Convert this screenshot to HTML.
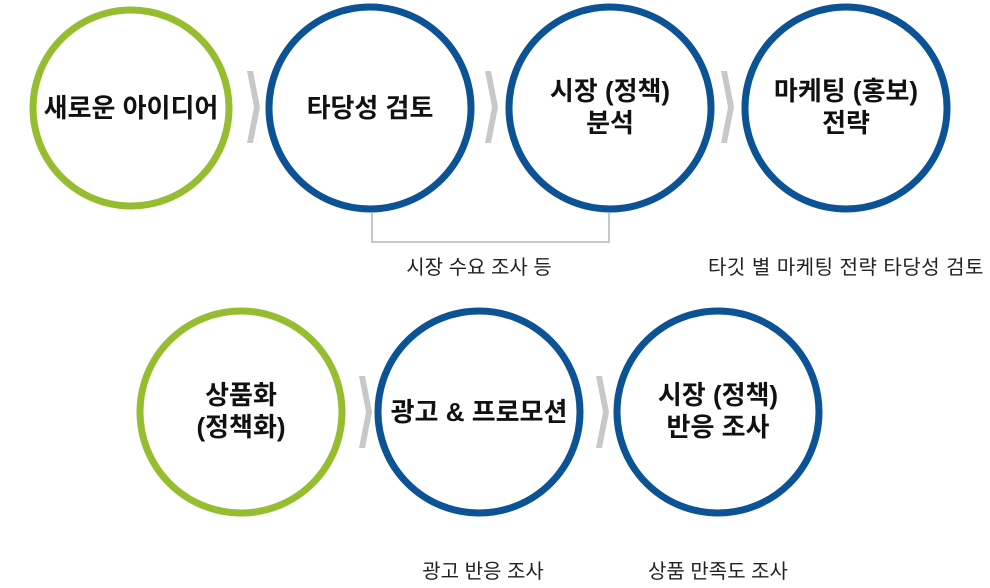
<!DOCTYPE html>
<html><head><meta charset="utf-8"><style>
body{margin:0;width:990px;height:583px;background:#fff;overflow:hidden}
text{font-family:"Liberation Sans","Noto Sans CJK KR",sans-serif}
</style></head><body>
<svg width="990" height="583" viewBox="0 0 990 583">
<g fill="none" stroke-width="7">
<circle cx="131" cy="108" r="98" stroke="#96bd2f"/>
<circle cx="370" cy="108" r="101" stroke="#0b5394"/>
<circle cx="610" cy="108" r="101" stroke="#0b5394"/>
<circle cx="846" cy="108" r="101" stroke="#0b5394"/>
<circle cx="241" cy="412" r="101" stroke="#96bd2f"/>
<circle cx="479" cy="412" r="101" stroke="#0b5394"/>
<circle cx="718" cy="412" r="101" stroke="#0b5394"/>
</g>
<g fill="#c8c8c8">
<polygon points="247,71 253,71 260,107 253,143 247,143 254,107"/>
<polygon points="485,71 491,71 498,107 491,143 485,143 492,107"/>
<polygon points="721,71 727,71 734,107 727,143 721,143 728,107"/>
<polygon points="359,376 365,376 372,412 365,448 359,448 366,412"/>
<polygon points="596,376 602,376 609,412 602,448 596,448 603,412"/>
</g>
<polyline points="372,213 372,242 609,242 609,213" fill="none" stroke="#c8c8c8" stroke-width="2"/>
<g font-size="26" font-weight="bold" fill="#111" text-anchor="middle">
<text x="131" y="117">새로운 아이디어</text>
<text x="370" y="117">타당성 검토</text>
<text x="610" y="100">시장 (정책)</text>
<text x="610" y="132">분석</text>
<text x="846" y="100">마케팅 (홍보)</text>
<text x="846" y="132">전략</text>
<text x="241" y="404">상품화</text>
<text x="241" y="436">(정책화)</text>
<text x="479" y="421">광고 &amp; 프로모션</text>
<text x="718" y="404">시장 (정책)</text>
<text x="718" y="436">반응 조사</text>
</g>
<g font-size="20" fill="#222" text-anchor="middle">
<text x="479" y="274">시장 수요 조사 등</text>
<text x="846" y="274" letter-spacing="0.5">타깃 별 마케팅 전략 타당성 검토</text>
<text x="483" y="578">광고 반응 조사</text>
<text x="718" y="578">상품 만족도 조사</text>
</g>
</svg>
</body></html>
